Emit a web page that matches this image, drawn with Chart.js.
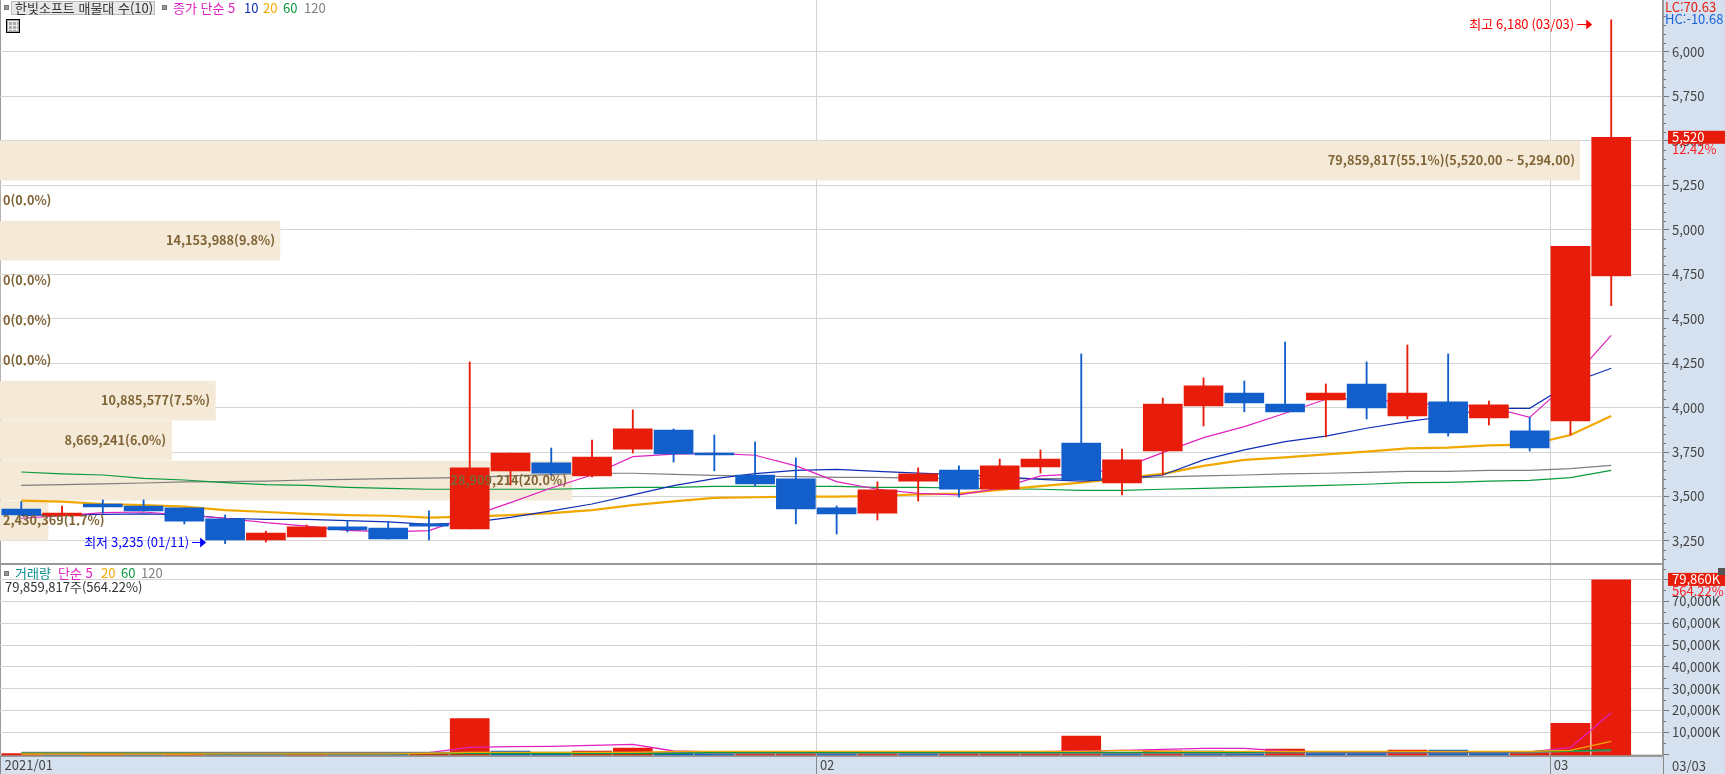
<!DOCTYPE html>
<html lang="ko">
<head>
<meta charset="utf-8">
<title>한빛소프트 매물대 수(10)</title>
<script src="https://cdn.jsdelivr.net/npm/chart.js"></script>
<style>
    html, body { margin: 0; padding: 0; background: #fff; overflow: hidden; }
    #wrap { position: relative; width: 1725px; height: 774px; background: #d6e1f0; font: 13px "Liberation Sans Narrow", "Noto Sans CJK KR", sans-serif; }
    canvas { position: absolute; left: 0; }
    #priceChart { top: 0; }
    #volumeChart { top: 565px; }
    .txt { position: absolute; white-space: nowrap; line-height: 14px; }
    .sq { position: absolute; width: 5px; height: 5px; background: #999; border: 1px solid #777; box-sizing: border-box; }
    #divider { position: absolute; left: 0; top: 563px; width: 1663px; height: 2px; background: #999; }
    #titleBox { position: absolute; left: 11px; top: 1px; width: 144px; height: 14px; background: #e8e8e8; border: 1px solid #bbb; box-sizing: border-box; }
    #gridIcon { position: absolute; left: 6px; top: 19px; width: 14px; height: 14px; box-sizing: border-box; border: 1px solid #000; background: #aaa; }
    #gridIcon div { position: absolute; left: 1px; top: 1px; width: 10px; height: 10px; background-image: linear-gradient(#eee 1px, transparent 1px), linear-gradient(90deg, #eee 1px, transparent 1px); background-size: 4px 4px; }
    #closeIcon { position: absolute; left: 1718px; top: 568px; width: 7px; height: 7px; background: #555; }
</style>
</head>
<body>
<div id="wrap">
    <canvas id="priceChart" width="1725" height="565"></canvas>
    <canvas id="volumeChart" width="1725" height="209"></canvas>
    <div id="divider"></div>

    <div class="sq" style="left:4px;top:5px"></div>
    <div id="titleBox"></div>
    <div class="txt" style="left:15px;top:1px;color:#333">한빛소프트 매물대 수(10)</div>
    <div class="sq" style="left:162px;top:5px"></div>
    <div class="txt" style="left:173px;top:1px;color:#e020c0">종가 단순 5</div>
    <div class="txt" style="left:244px;top:1px;color:#0f2eb5">10</div>
    <div class="txt" style="left:263px;top:1px;color:#f0a800">20</div>
    <div class="txt" style="left:283px;top:1px;color:#0a9a3e">60</div>
    <div class="txt" style="left:304px;top:1px;color:#7f7f7f">120</div>
    <div id="gridIcon"><div></div></div>

    <div class="sq" style="left:4px;top:571px"></div>
    <div class="txt" style="left:15px;top:566px;color:#0a8f8f">거래량</div>
    <div class="txt" style="left:58px;top:566px;color:#e020c0">단순 5</div>
    <div class="txt" style="left:101px;top:566px;color:#f0a800">20</div>
    <div class="txt" style="left:121px;top:566px;color:#0a9a3e">60</div>
    <div class="txt" style="left:141px;top:566px;color:#7f7f7f">120</div>
    <div class="txt" style="left:5px;top:580px;color:#333">79,859,817주(564.22%)</div>
    <div id="closeIcon"></div>
</div>

<script>
// candle data
const opens  = [3430,3391,3458,3447,3436,3374,3256,3273,3329,3323,3346,3318,3644,3689,3616,3767,3874,3745,3621,3599,3436,3407,3587,3649,3542,3666,3801,3576,3756,4009,4082,4020,4043,4133,3953,4032,3942,3869,3925,4740];
const highs  = [3471,3447,3481,3481,3436,3396,3306,3340,3366,3357,3419,4257,3745,3773,3818,3987,3880,3846,3807,3717,3447,3582,3661,3672,3711,3762,4302,3767,4054,4167,4150,4369,4133,4257,4352,4302,4037,3946,4907,6180];
const lows   = [3396,3391,3406,3419,3346,3235,3244,3273,3301,3261,3256,3318,3565,3621,3610,3745,3694,3644,3559,3346,3289,3368,3475,3497,3542,3632,3593,3509,3621,3897,3976,3976,3835,3936,3936,3840,3902,3756,3846,4573];
const closes = [3396,3407,3441,3419,3362,3256,3295,3329,3312,3261,3334,3661,3745,3632,3722,3880,3739,3734,3571,3430,3402,3537,3627,3542,3672,3711,3593,3706,4020,4122,4026,3976,4082,3998,4082,3857,4015,3773,4907,5520];

// price moving averages
const ma5   = [3378,3392,3409,3413,3396,3378,3353,3334,3310,3301,3308,3387,3466,3548,3621,3724,3739,3743,3732,3672,3584,3541,3518,3509,3546,3616,3627,3660,3747,3831,3893,3968,4047,4052,4024,4015,4005,3945,4150,4406];
const ma10  = [3394,3398,3400,3402,3398,3378,3372,3372,3364,3357,3344,3353,3383,3419,3458,3509,3561,3601,3629,3647,3653,3642,3632,3623,3612,3597,3587,3599,3621,3706,3762,3809,3840,3884,3921,3953,3996,3996,4137,4221];
const ma20  = [3477,3471,3458,3452,3443,3424,3413,3402,3396,3392,3381,3387,3396,3407,3424,3452,3473,3492,3496,3499,3499,3503,3512,3516,3537,3559,3578,3604,3627,3672,3706,3720,3737,3752,3771,3775,3788,3792,3846,3953];
const ma60  = [3638,3627,3621,3602,3593,3578,3567,3563,3552,3546,3541,3541,3541,3541,3546,3552,3552,3557,3557,3557,3557,3552,3552,3548,3544,3541,3535,3535,3541,3546,3552,3557,3563,3569,3578,3580,3587,3591,3606,3647];
const ma120 = [3563,3567,3571,3576,3582,3584,3587,3593,3597,3601,3604,3608,3616,3623,3631,3631,3625,3619,3614,3612,3608,3608,3604,3601,3599,3601,3601,3602,3610,3616,3621,3627,3631,3636,3642,3642,3647,3647,3657,3675];

// volume, in thousands of shares
const volumes = [150,120,130,120,130,120,110,120,110,100,450,16300,1380,600,1380,2750,700,320,780,800,300,350,300,330,340,350,8250,320,1510,1380,700,2300,320,310,1830,1800,600,650,14080,79860];
const volMa5   = [100,100,100,100,100,150,100,100,100,100,600,3070,3350,3500,3990,4450,1380,1000,780,780,500,350,350,350,350,1060,1380,1700,2150,2610,2610,1380,800,600,600,800,800,1000,2900,18950];
const volMa20  = [0,0,0,0,0,50,50,50,50,50,300,700,780,780,780,780,1240,1240,1240,1240,1240,1240,1240,1240,1240,1240,1240,1700,1240,1240,1240,1240,1240,1240,1240,1240,1240,1240,1700,5830];
const volMa60  = [300,300,300,300,300,50,50,50,50,50,150,150,150,150,150,150,150,780,780,780,780,780,780,780,780,780,780,780,780,780,780,1100,1100,1100,1100,1100,1100,1100,1380,1970];
const volMa120 = [690,690,690,690,690,690,690,690,690,690,690,690,690,690,690,690,690,200,200,200,200,200,200,200,200,200,200,200,200,200,200,500,500,500,500,500,500,500,1240,1500];

// volume profile bands (매물대)
const profileMid    = [5389,5164,4939,4714,4489,4264,4039,3814,3589,3364];
const profileVolume = [79859817,0,14153988,0,0,0,10885577,8669241,28909214,2430369];
const profileText   = ['79,859,817(55.1%)(5,520.00 ~ 5,294.00)','0(0.0%)','14,153,988(9.8%)','0(0.0%)','0(0.0%)','0(0.0%)','10,885,577(7.5%)','8,669,241(6.0%)','28,909,214(20.0%)','2,430,369(1.7%)'];

// axis ticks: labelled ones and the short marks in between
const priceMajor  = [3250,3500,3750,4000,4250,4500,4750,5000,5250,5500,5750,6000];
const priceMinor  = [3150,3200,3300,3350,3400,3450,3550,3600,3650,3700,3800,3850,3900,3950,4050,4100,4150,4200,4300,4350,4400,4450,4550,4600,4650,4700,4800,4850,4900,4950,5050,5100,5150,5200,5300,5350,5400,5450,5550,5600,5650,5700,5800,5850,5900,5950,6050,6100,6150,6200];
const volumeMajor = [0,10000,20000,30000,40000,50000,60000,70000,80000];
const volumeMinor = [5000,15000,25000,35000,45000,55000,65000,75000,85000];
const monthTicks  = [-0.5, 19.5, 37.5];
const monthLabels = ['2021/01', '02', '03'];
const lastDate = '03/03';

const RED = '#e81c0a', BLUE = '#125fcc';
const FONT = '"Liberation Sans Narrow", "Noto Sans CJK KR", sans-serif';
const X_MIN = -0.522, X_MAX = 40.27;

const indexes = opens.map((_, i) => i);
const candleColors = indexes.map(i => closes[i] >= opens[i] ? RED : BLUE);
const volumeColors = volumes.map((v, i) => (i === 0 || v >= volumes[i - 1]) ? RED : BLUE);

const lineSet = (data, color, width, yAxisID, order) => ({
    type: 'line',
    data: data.map((v, i) => ({ x: i, y: v })),
    borderColor: color,
    borderWidth: width,
    pointRadius: 0,
    tension: 0,
    yAxisID,
    order
});

const xAxis = (height) => ({
    type: 'linear',
    offset: false,
    min: X_MIN,
    max: X_MAX,
    afterBuildTicks: s => { s.ticks = monthTicks.concat(X_MAX).map(v => ({ value: v })); },
    afterFit: s => { s.height = height; s.paddingLeft = 0; s.paddingRight = 0; },
    border: { display: height > 0, color: '#999', width: 2 },
    grid: {
        offset: false,
        color: c => (c.tick && c.tick.value < 0) ? '#999' : (c.tick && c.tick.value === X_MAX ? 'transparent' : '#d3d3d3'),
        tickColor: '#888',
        tickLength: height,
        drawTicks: height > 0
    },
    ticks: {
        display: height > 0,
        autoSkip: false,
        maxRotation: 0,
        align: 'start',
        padding: -17,
        color: '#444',
        font: { family: FONT, size: 13 },
        callback: v => {
            const i = monthTicks.indexOf(v);
            return i >= 0 ? ' ' + monthLabels[i] : '';
        }
    }
});

const yAxis = (min, max, major, minor, fmt) => ({
    type: 'linear',
    position: 'right',
    offset: false,
    min,
    max,
    afterBuildTicks: s => { s.ticks = major.concat(minor).sort((a, b) => a - b).map(v => ({ value: v })); },
    afterFit: s => { s.width = 62; s.paddingTop = 0; s.paddingBottom = 0; },
    border: { color: '#999', width: 2 },
    grid: {
        offset: false,
        color: c => (c.tick && major.includes(c.tick.value)) ? '#d4d4d4' : 'transparent',
        tickColor: c => (c.tick && major.includes(c.tick.value)) ? '#777' : 'transparent',
        tickLength: 6
    },
    ticks: {
        autoSkip: false,
        padding: 3,
        color: '#444',
        font: { family: FONT, size: 13 },
        callback: fmt
    }
});

// white plot background, the axis strips keep the page colour
const plotBackground = {
    id: 'plotBackground',
    beforeDraw(chart) {
        const a = chart.chartArea;
        chart.ctx.save();
        chart.ctx.fillStyle = '#fff';
        chart.ctx.fillRect(a.left, a.top, a.right - a.left, a.bottom - a.top);
        chart.ctx.restore();
    }
};

// short minor tick marks, the library only has one tick length
const minorTicks = (values) => ({
    id: 'minorTicks',
    afterDraw(chart) {
        const scale = chart.scales.y, ctx = chart.ctx;
        ctx.save();
        ctx.strokeStyle = '#777';
        values.forEach(v => {
            const y = Math.round(scale.getPixelForValue(v)) + 0.5;
            ctx.beginPath();
            ctx.moveTo(chart.chartArea.right, y);
            ctx.lineTo(chart.chartArea.right + 3, y);
            ctx.stroke();
        });
        ctx.restore();
    }
});

const drawText = (ctx, text, x, y, color, align) => {
    ctx.font = '13px ' + FONT;
    ctx.fillStyle = color;
    ctx.textAlign = align || 'left';
    ctx.textBaseline = 'middle';
    ctx.fillText(text, x, y);
};

const drawArrow = (ctx, x0, x1, y, color) => {
    ctx.strokeStyle = color;
    ctx.fillStyle = color;
    ctx.lineWidth = 1;
    ctx.beginPath();
    ctx.moveTo(x0, y + 0.5);
    ctx.lineTo(x1 - 5, y + 0.5);
    ctx.stroke();
    ctx.beginPath();
    ctx.moveTo(x1, y + 0.5);
    ctx.lineTo(x1 - 6, y - 4.5);
    ctx.lineTo(x1 - 6, y + 5.5);
    ctx.closePath();
    ctx.fill();
};

const priceLabels = {
    id: 'priceLabels',
    afterDatasetsDraw(chart) {
        const ctx = chart.ctx, x = chart.scales.x, y = chart.scales.y;
        ctx.save();

        // band captions sit at the right end of each band, never past the left edge
        ctx.font = 'bold 12.7px "Noto Sans CJK KR", sans-serif';
        ctx.fillStyle = '#7f6435';
        ctx.textBaseline = 'middle';
        ctx.textAlign = 'left';
        chart.getDatasetMeta(0).data.forEach((bar, i) => {
            const w = ctx.measureText(profileText[i]).width;
            ctx.fillText(profileText[i], Math.max(3, Math.round(bar.x) - 5 - w), Math.round(bar.y) - 1);
        });

        // highest and lowest price markers
        const hi = highs.indexOf(Math.max(...highs));
        const lo = lows.indexOf(Math.min(...lows));
        const hiX = x.getPixelForValue(hi) - 19, hiY = Math.round(y.getPixelForValue(highs[hi])) + 4;
        drawText(ctx, '최고 6,180 (03/03)', hiX - 18, hiY, '#ff0000', 'right');
        drawArrow(ctx, hiX - 15, hiX, hiY, '#ff0000');
        const loX = x.getPixelForValue(lo) - 19, loY = Math.round(y.getPixelForValue(lows[lo])) - 2;
        drawText(ctx, '최저 3,235 (01/11)', loX - 17, loY, '#0000ff', 'right');
        drawArrow(ctx, loX - 14, loX, loY, '#0000ff');
        ctx.restore();
    },
    afterDraw(chart) {
        const ctx = chart.ctx, y = chart.scales.y;
        const tagY = y.getPixelForValue(closes[closes.length - 1]);
        ctx.save();
        ctx.fillStyle = RED;
        ctx.fillRect(1668, tagY - 6.5, 57, 13);
        drawText(ctx, '5,520', 1672, tagY, '#fff');
        drawText(ctx, '12.42%', 1672, tagY + 12, '#ff2020');
        drawText(ctx, 'LC:70.63', 1665, 7, '#e81c0a');
        drawText(ctx, 'HC:-10.68', 1665, 19, '#1a62d8');
        ctx.restore();
    }
};

const volumeLabels = {
    id: 'volumeLabels',
    afterDraw(chart) {
        const ctx = chart.ctx, y = chart.scales.y;
        const tagY = y.getPixelForValue(volumes[volumes.length - 1]);
        ctx.save();
        ctx.fillStyle = RED;
        ctx.fillRect(1668, tagY - 7, 57, 13);
        drawText(ctx, '79,860K', 1672, tagY - 0.5, '#fff');
        drawText(ctx, '564.22%', 1672, tagY + 11, '#ff2020');
        drawText(ctx, lastDate, 1672, chart.chartArea.bottom + 10, '#444');
        ctx.restore();
    }
};

const baseOptions = {
    responsive: false,
    animation: false,
    devicePixelRatio: 1,
    layout: { padding: 0 },
    plugins: { legend: { display: false }, tooltip: { enabled: false } }
};

// price pane
new Chart(document.getElementById('priceChart'), {
    type: 'bar',
    data: {
        datasets: [
            {
                data: profileMid.map((p, i) => ({ x: profileVolume[i], y: p })),
                indexAxis: 'y',
                xAxisID: 'xProfile',
                yAxisID: 'y',
                grouped: false,
                barThickness: 39,
                backgroundColor: '#f5e9d7',
                order: 10
            },
            lineSet(ma120, '#7f7f7f', 1.2, 'y', 9),
            lineSet(ma60, '#0a9a3e', 1.2, 'y', 8),
            lineSet(ma20, '#f0a800', 2.2, 'y', 7),
            lineSet(ma10, '#0f2eb5', 1.2, 'y', 6),
            lineSet(ma5, '#e020c0', 1.2, 'y', 5),
            {
                // wicks
                data: indexes.map(i => ({ x: i, y: [lows[i], highs[i]] })),
                grouped: false,
                barThickness: 1.2,
                backgroundColor: candleColors,
                order: 3
            },
            {
                // bodies
                data: indexes.map(i => ({ x: i, y: [opens[i], closes[i]] })),
                grouped: false,
                barThickness: 39,
                backgroundColor: candleColors,
                order: 2
            }
        ]
    },
    options: {
        ...baseOptions,
        scales: {
            x: xAxis(0),
            xProfile: { axis: 'x', type: 'linear', display: false, offset: false, min: 0, max: 84070000 },
            y: yAxis(3115, 6292, priceMajor, priceMinor, v => priceMajor.includes(v) ? v.toLocaleString('en-US') : '')
        }
    },
    plugins: [plotBackground, minorTicks(priceMinor), priceLabels]
});

// volume pane
new Chart(document.getElementById('volumeChart'), {
    type: 'bar',
    data: {
        datasets: [
            {
                data: indexes.map(i => ({ x: i, y: volumes[i] })),
                grouped: false,
                barThickness: 39,
                base: -450,
                backgroundColor: volumeColors,
                order: 10
            },
            lineSet(volMa5, '#e020c0', 1.3, 'y', 5),
            lineSet(volMa120, '#7f7f7f', 1.3, 'y', 4),
            lineSet(volMa60, '#0a9a3e', 1.3, 'y', 3),
            lineSet(volMa20, '#f0a800', 1.3, 'y', 2)
        ]
    },
    options: {
        ...baseOptions,
        scales: {
            x: xAxis(18),
            y: yAxis(-917, 86697, volumeMajor, volumeMinor, v => (v > 0 && v < 80000 && volumeMajor.includes(v)) ? v.toLocaleString('en-US') + 'K' : '')
        }
    },
    plugins: [plotBackground, minorTicks(volumeMinor), volumeLabels]
});
</script>
</body>
</html>
